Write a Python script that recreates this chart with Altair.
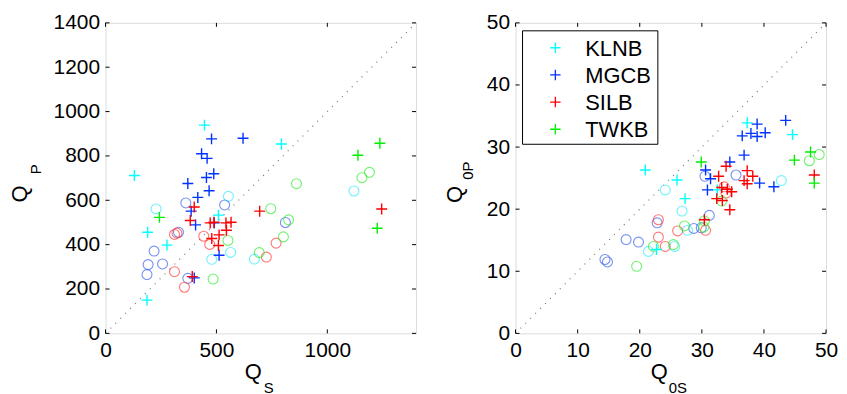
import altair as alt
import pandas as pd

SITES = ["KLNB", "MGCB", "SILB", "TWKB"]
PLUS_COLORS = ["#00FFFF", "#0033FF", "#FF0000", "#00EE00"]
CIRC_COLORS = ["#33EEFF", "#3F63EE", "#FF3F3F", "#33EE33"]

# ---- left panel (Q_S vs Q_P) ----
L_PLUS_KLNB_X = [446, 130, 793, 509, 190, 277, 187]
L_PLUS_KLNB_Y = [939, 712, 854, 533, 456, 398, 150]
L_PLUS_MGCB_X = [478, 620, 433, 458, 488, 455, 371, 467, 416, 386, 406, 490, 512, 400]
L_PLUS_MGCB_Y = [877, 880, 810, 789, 720, 703, 676, 643, 613, 551, 489, 498, 352, 250]
L_PLUS_SILB_X = [400, 382, 472, 489, 543, 566, 479, 512, 545, 509, 391, 695, 1245]
L_PLUS_SILB_Y = [570, 509, 498, 501, 498, 501, 428, 444, 465, 396, 256, 551, 561]
L_PLUS_TWKB_X = [243, 1237, 1138, 1225]
L_PLUS_TWKB_Y = [523, 857, 803, 474]

L_CIRC_KLNB_X = [228, 554, 564, 479, 671, 1120]
L_CIRC_KLNB_Y = [561, 618, 365, 334, 335, 642]
L_CIRC_MGCB_X = [362, 537, 329, 219, 192, 257, 187, 371, 811]
L_CIRC_MGCB_Y = [588, 579, 456, 371, 310, 313, 265, 248, 500]
L_CIRC_SILB_X = [311, 443, 470, 311, 356, 769, 725, 322]
L_CIRC_SILB_Y = [446, 438, 401, 278, 208, 407, 344, 452]
L_CIRC_TWKB_X = [552, 485, 861, 745, 825, 802, 693, 1156, 1190]
L_CIRC_TWKB_Y = [419, 245, 675, 562, 512, 435, 364, 702, 726]

# ---- right panel (Q_0S vs Q_0P) ----
R_PLUS_KLNB_X = [20.9, 26.0, 27.3, 32.5, 37.3, 44.6, 22.7]
R_PLUS_KLNB_Y = [26.3, 24.7, 21.7, 23.1, 33.9, 32.0, 13.5]
R_PLUS_MGCB_X = [38.9, 43.5, 36.5, 37.9, 38.9, 40.2, 36.8, 34.5, 30.6, 31.4, 39.3, 41.6, 30.9]
R_PLUS_MGCB_Y = [33.7, 34.3, 31.8, 32.2, 31.7, 32.3, 28.7, 27.6, 26.3, 24.9, 24.2, 23.6, 23.1]
R_PLUS_SILB_X = [33.9, 32.7, 37.3, 38.2, 36.8, 37.3, 33.2, 34.1, 34.8, 32.4, 33.3, 34.5, 48.1, 30.4]
R_PLUS_SILB_Y = [26.9, 25.3, 26.2, 25.3, 24.6, 24.1, 23.5, 23.2, 22.8, 21.7, 21.4, 19.9, 25.5, 18.3]
R_PLUS_TWKB_X = [29.9, 44.9, 47.5, 48.1]
R_PLUS_TWKB_Y = [27.6, 27.9, 29.2, 24.2]

R_CIRC_KLNB_X = [24.1, 26.8, 21.4, 25.6, 27.7, 42.8]
R_CIRC_KLNB_Y = [23.1, 19.7, 13.2, 14.0, 16.6, 24.6]
R_CIRC_MGCB_X = [22.8, 17.8, 19.8, 14.4, 14.8, 30.5, 35.5, 31.2, 28.7, 29.9]
R_CIRC_MGCB_Y = [17.8, 15.1, 14.7, 11.9, 11.5, 25.3, 25.5, 19.0, 16.9, 17.0]
R_CIRC_SILB_X = [23.0, 23.0, 24.1, 26.1, 30.6, 33.6, 33.9]
R_CIRC_SILB_Y = [18.3, 15.5, 14.0, 16.5, 16.6, 23.6, 22.6]
R_CIRC_TWKB_X = [19.5, 22.2, 25.4, 27.2, 30.3, 30.4, 33.2, 47.3, 48.9]
R_CIRC_TWKB_Y = [10.8, 14.0, 14.3, 17.3, 17.1, 18.1, 21.3, 27.8, 28.8]

L_TICKS_X = [0, 500, 1000]
L_TICKS_Y = [0, 200, 400, 600, 800, 1000, 1200, 1400]
R_TICKS = [0, 10, 20, 30, 40, 50]
L_MAX = 1400
R_MAX = 50

FONT = "Liberation Sans"
W = 312
H = 312
TICK = 4

PLUS_PATH = "M-1,0L1,0M0,-1L0,1"


def frame(xs_by_site, ys_by_site):
    rows = []
    for site, xs, ys in zip(SITES, xs_by_site, ys_by_site):
        for x, y in zip(xs, ys):
            rows.append({"x": x, "y": y, "site": site})
    return pd.DataFrame(rows)


def text_layer(txt, x, y, size, angle=0, align="center", baseline="alphabetic"):
    kw = dict(font=FONT, fontSize=size, align=align, baseline=baseline, color="black")
    if angle:
        kw["angle"] = angle
    return alt.Chart(pd.DataFrame({"t": [txt]})).mark_text(**kw).encode(
        text="t:N", x=alt.value(x), y=alt.value(y)
    )


def panel(plus_df, circ_df, vmax, xticks, yticks, xsub, ysub, xt_pos, yt_pos, legend):
    xs = alt.Scale(domain=[0, vmax], nice=False, zero=False)
    ys = alt.Scale(domain=[0, vmax], nice=False, zero=False)
    xax = alt.Axis(values=xticks, title=None, ticks=False, domain=False, grid=False, format="d",
                   labelFlush=False, labelFont=FONT, labelFontSize=21, labelColor="black",
                   labelPadding=6)
    yax = alt.Axis(values=yticks, title=None, ticks=False, domain=False, grid=False, format="d",
                   labelFlush=False, labelFont=FONT, labelFontSize=21, labelColor="black",
                   labelPadding=6)

    diag = alt.Chart(pd.DataFrame({"x": [0, vmax], "y": [0, vmax]})).mark_line(
        color="#777777", strokeDash=[1, 6], strokeWidth=1.2
    ).encode(x=alt.X("x:Q", scale=xs, axis=xax), y=alt.Y("y:Q", scale=ys, axis=yax))

    circ = alt.Chart(circ_df).mark_point(shape="circle", filled=False, size=100, strokeWidth=1.1).encode(
        x="x:Q", y="y:Q",
        stroke=alt.Stroke("site:N", scale=alt.Scale(domain=SITES, range=CIRC_COLORS), legend=None),
    )
    plus = alt.Chart(plus_df).mark_point(shape=PLUS_PATH, filled=False, size=121, strokeWidth=1.4,
                                         opacity=1).encode(
        x="x:Q", y="y:Q",
        color=alt.Color("site:N", scale=alt.Scale(domain=SITES, range=PLUS_COLORS), legend=None),
    )

    xt = pd.DataFrame({"v": xticks})
    yt = pd.DataFrame({"v": yticks})
    tick_layers = [
        alt.Chart(xt).mark_rule(color="black", strokeWidth=1).encode(x="v:Q", y=alt.value(H), y2=alt.value(H - TICK)),
        alt.Chart(xt).mark_rule(color="black", strokeWidth=1).encode(x="v:Q", y=alt.value(0), y2=alt.value(TICK)),
        alt.Chart(yt).mark_rule(color="black", strokeWidth=1).encode(y="v:Q", x=alt.value(0), x2=alt.value(TICK)),
        alt.Chart(yt).mark_rule(color="black", strokeWidth=1).encode(y="v:Q", x=alt.value(W), x2=alt.value(W - TICK)),
    ]

    (qx, qy, sx, sy) = xt_pos
    (rqx, rqy, rsx, rsy) = yt_pos
    titles = [
        text_layer("Q", qx, qy, 22, align="right"),
        text_layer(xsub, sx, sy, 15, align="left"),
        text_layer("Q", rqx, rqy, 22, angle=270),
        text_layer(ysub, rsx, rsy, 15, angle=270),
    ]

    layers = [diag, circ, plus] + tick_layers + titles

    if legend:
        box = alt.Chart(pd.DataFrame({"a": [0]})).mark_rect(
            fill="white", stroke="black", strokeWidth=1
        ).encode(x=alt.value(7), x2=alt.value(143), y=alt.value(8), y2=alt.value(122))
        layers.append(box)
        for i, (s, c) in enumerate(zip(SITES, PLUS_COLORS)):
            yy = 25 + 27.3 * i
            layers.append(
                alt.Chart(pd.DataFrame({"s": [s]})).mark_point(
                    shape=PLUS_PATH, filled=False, size=110, strokeWidth=1.3, color=c, opacity=1
                ).encode(x=alt.value(40), y=alt.value(yy))
            )
            layers.append(
                alt.Chart(pd.DataFrame({"s": [s]})).mark_text(
                    font=FONT, fontSize=22, align="left", baseline="middle", color="black"
                ).encode(text="s:N", x=alt.value(70), y=alt.value(yy + 1))
            )

    return alt.layer(*layers).properties(width=W, height=H)


left = panel(
    frame([L_PLUS_KLNB_X, L_PLUS_MGCB_X, L_PLUS_SILB_X, L_PLUS_TWKB_X],
          [L_PLUS_KLNB_Y, L_PLUS_MGCB_Y, L_PLUS_SILB_Y, L_PLUS_TWKB_Y]),
    frame([L_CIRC_KLNB_X, L_CIRC_MGCB_X, L_CIRC_SILB_X, L_CIRC_TWKB_X],
          [L_CIRC_KLNB_Y, L_CIRC_MGCB_Y, L_CIRC_SILB_Y, L_CIRC_TWKB_Y]),
    L_MAX, L_TICKS_X, L_TICKS_Y, "S", "P",
    (157, 358, 159, 371.5), (-79, 172, -65, 147), False,
)
right = panel(
    frame([R_PLUS_KLNB_X, R_PLUS_MGCB_X, R_PLUS_SILB_X, R_PLUS_TWKB_X],
          [R_PLUS_KLNB_Y, R_PLUS_MGCB_Y, R_PLUS_SILB_Y, R_PLUS_TWKB_Y]),
    frame([R_CIRC_KLNB_X, R_CIRC_MGCB_X, R_CIRC_SILB_X, R_CIRC_TWKB_X],
          [R_CIRC_KLNB_Y, R_CIRC_MGCB_Y, R_CIRC_SILB_Y, R_CIRC_TWKB_Y]),
    R_MAX, R_TICKS, R_TICKS, "0S", "0P",
    (153, 358, 154, 371.5), (-54, 172.5, -43, 148.5), True,
)

chart = alt.hconcat(left, right, spacing=24).resolve_scale(
    color="independent", stroke="independent"
).properties(
    padding={"left": 0, "top": 2, "right": 0, "bottom": 0}
).configure_view(stroke="black", strokeWidth=1).configure(background="white")

chart.save("out.html", embed_options={"renderer": "svg", "actions": False})
